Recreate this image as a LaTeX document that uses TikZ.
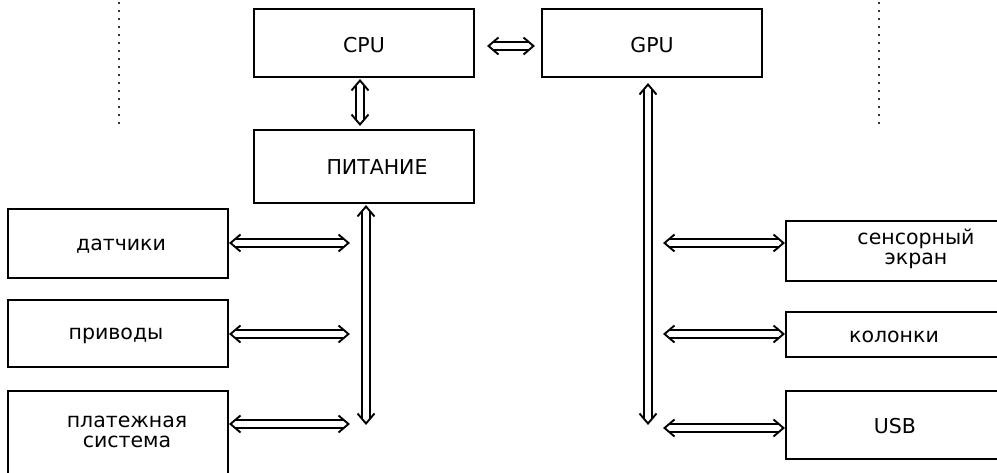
\documentclass[tikz,border=0pt]{standalone}
\usepackage{fontspec}
\setmainfont{DejaVu Sans}
\usetikzlibrary{calc}
\begin{document}
\begin{tikzpicture}[x=1pt,y=-1pt,
  box/.style={draw, line width=2pt, inner sep=0pt, outer sep=0pt, anchor=north west, minimum width=220pt},
  lbl/.style={inner sep=0pt, font=\fontsize{20.5}{19.5}\selectfont, align=center},
  dbl/.style={line width=1.9pt, line join=miter, miter limit=10, to path={
    let \p1=(\tikztostart), \p2=(\tikztotarget),
        \n1={atan2(\y2-\y1,\x2-\x1)}, \n2={veclen(\x2-\x1,\y2-\y1)} in
    {[shift={(\p1)}, rotate=\n1]
      (10pt,8.5pt) -- (0pt,0pt) -- (10pt,-8.5pt)
      ({\n2*1pt-10pt},8.5pt) -- ({\n2*1pt},0pt) -- ({\n2*1pt-10pt},-8.5pt)
      (4.7pt,4pt) -- ({\n2*1pt-4.7pt},4pt)
      (4.7pt,-4pt) -- ({\n2*1pt-4.7pt},-4pt)}}},
  dots/.style={line width=2pt, dash pattern=on 2pt off 6pt, black!80}]
\useasboundingbox (0,0) rectangle (997,473);
\clip (0,0) rectangle (997,473);
% boxes
\node[box, minimum height=68pt] (cpu) at (254,9) {};
\node[box, minimum height=68pt] (gpu) at (542,9) {};
\node[box, minimum height=73pt] (pwr) at (254,130) {};
\node[box, minimum height=69pt] (sens) at (8,209) {};
\node[box, minimum height=67pt] (act) at (8,300) {};
\node[box, minimum height=95pt] (pay) at (8,391) {};
\node[box, minimum height=60pt] (touch) at (786,221) {};
\node[box, minimum height=45pt] (spk) at (786,312) {};
\node[box, minimum height=68pt] (usb) at (786,391) {};
% labels
\node[lbl] (tcpu) at (364,45) {CPU};
\node[lbl] (tgpu) at (652,45) {GPU};
\node[lbl] (tpwr) at (377,167) {ПИТАНИЕ};
\node[lbl] (tsens) at (121,246) {датчики};
\node[lbl] (tact) at (116,336) {приводы};
\node[lbl] (tpay) at (127,432) {платежная\\система};
\node[lbl] (ttouch) at (916,249) {сенсорный\\экран};
\node[lbl] (tspk) at (894,337) {колонки};
\node[lbl] (tusb) at (895,426) {USB};
% dotted lines
\coordinate (d1a) at (119,2.5); \coordinate (d1b) at (119,124);
\coordinate (d2a) at (879,2.5); \coordinate (d2b) at (879,124);
\draw[dots] (d1a) -- (d1b);
\draw[dots] (d2a) -- (d2b);
% bus end points
\coordinate (busL) at (366,423.5);
\coordinate (busR) at (648,423.5);
% arrows
\draw[dbl] ([shift={(14.5,3)}]cpu.east) to ([shift={(-8.5,3)}]gpu.west);
\draw[dbl] ([shift={(-4,3.5)}]cpu.south) to ([shift={(-4,-5.5)}]pwr.north);
\draw[dbl] ([shift={(2,3.5)}]pwr.south) to (busL);
\draw[dbl] ([shift={(-4,7.5)}]gpu.south) to (busR);
\draw[dbl] ([shift={(2.5,-0.5)}]sens.east) to ([shift={(-17.5,-0.5)}]sens.east -| busL);
\draw[dbl] ([shift={(2.5,0.5)}]act.east) to ([shift={(-17.5,0.5)}]act.east -| busL);
\draw[dbl] ([shift={(2.5,33)}]pay.north east) to ([shift={(-17.5,33)}]pay.north east -| busL);
\draw[dbl] ([shift={(16.5,-8)}]busR |- touch.west) to ([shift={(-2.5,-8)}]touch.west);
\draw[dbl] ([shift={(16.5,-0.5)}]busR |- spk.west) to ([shift={(-2.5,-0.5)}]spk.west);
\draw[dbl] ([shift={(16.5,3)}]busR |- usb.west) to ([shift={(-2.5,3)}]usb.west);
\end{tikzpicture}
\end{document}
